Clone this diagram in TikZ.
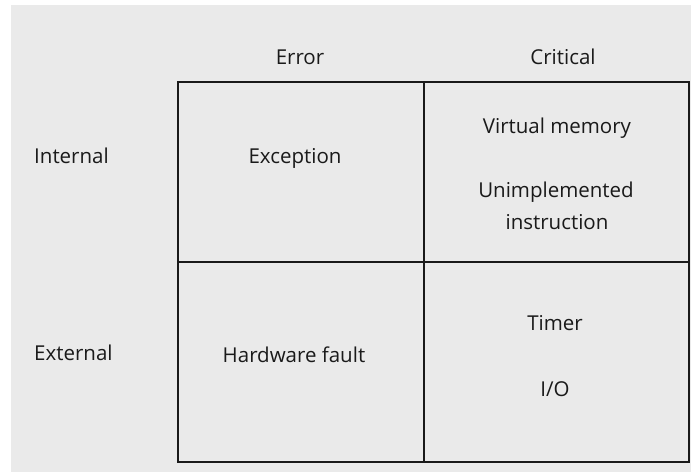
\documentclass[tikz,border=0pt]{standalone}
\usepackage{fontspec}
\setmainfont{Open Sans}
\definecolor{paper}{HTML}{EAEAEA}
\definecolor{ink}{HTML}{1A1A1A}
\tikzset{
  lbl/.style={font=\fontsize{20.5}{24}\selectfont, text=ink, inner sep=0pt, anchor=base, align=center},
  gridline/.style={draw=ink, line width=1.7pt}
}
\begin{document}
\begin{tikzpicture}[x=1pt,y=-1pt]
\useasboundingbox (0,0) rectangle (691,472);
\fill[white] (0,0) rectangle (691,472);
\fill[paper] (11,5) rectangle (691,472);
% grid corners
\coordinate (tl) at (178,82);
\coordinate (tm) at (424,82);
\coordinate (tr) at (689,82);
\coordinate (ml) at (178,262);
\coordinate (mr) at (689,262);
\coordinate (bl) at (178,462);
\coordinate (bm) at (424,462);
\coordinate (br) at (689,462);
\draw[gridline] (tl) -- (tr) -- (br) -- (bl) -- cycle;
\draw[gridline] (tm) -- (bm);
\draw[gridline] (ml) -- (mr);
% headers
\node[lbl] (err) at (300,64) {Error};
\node[lbl] (crit) at (563,64) {Critical};
\node[lbl, anchor=base west] (int) at (34,163) {Internal};
\node[lbl, anchor=base west] (ext) at (34,360) {External};
% cells
\node[lbl] (exc) at (295,163) {Exception};
\node[lbl] (vm) at (557,133) {Virtual memory};
\node[lbl] (ui) at (556,197) {Unimplemented};
\node[lbl] (ins) at (557,229) {instruction};
\node[lbl] (hw) at (294,362) {Hardware fault};
\node[lbl] (tim) at (555,330) {Timer};
\node[lbl] (io) at (555,396) {I/O};
\end{tikzpicture}
\end{document}
